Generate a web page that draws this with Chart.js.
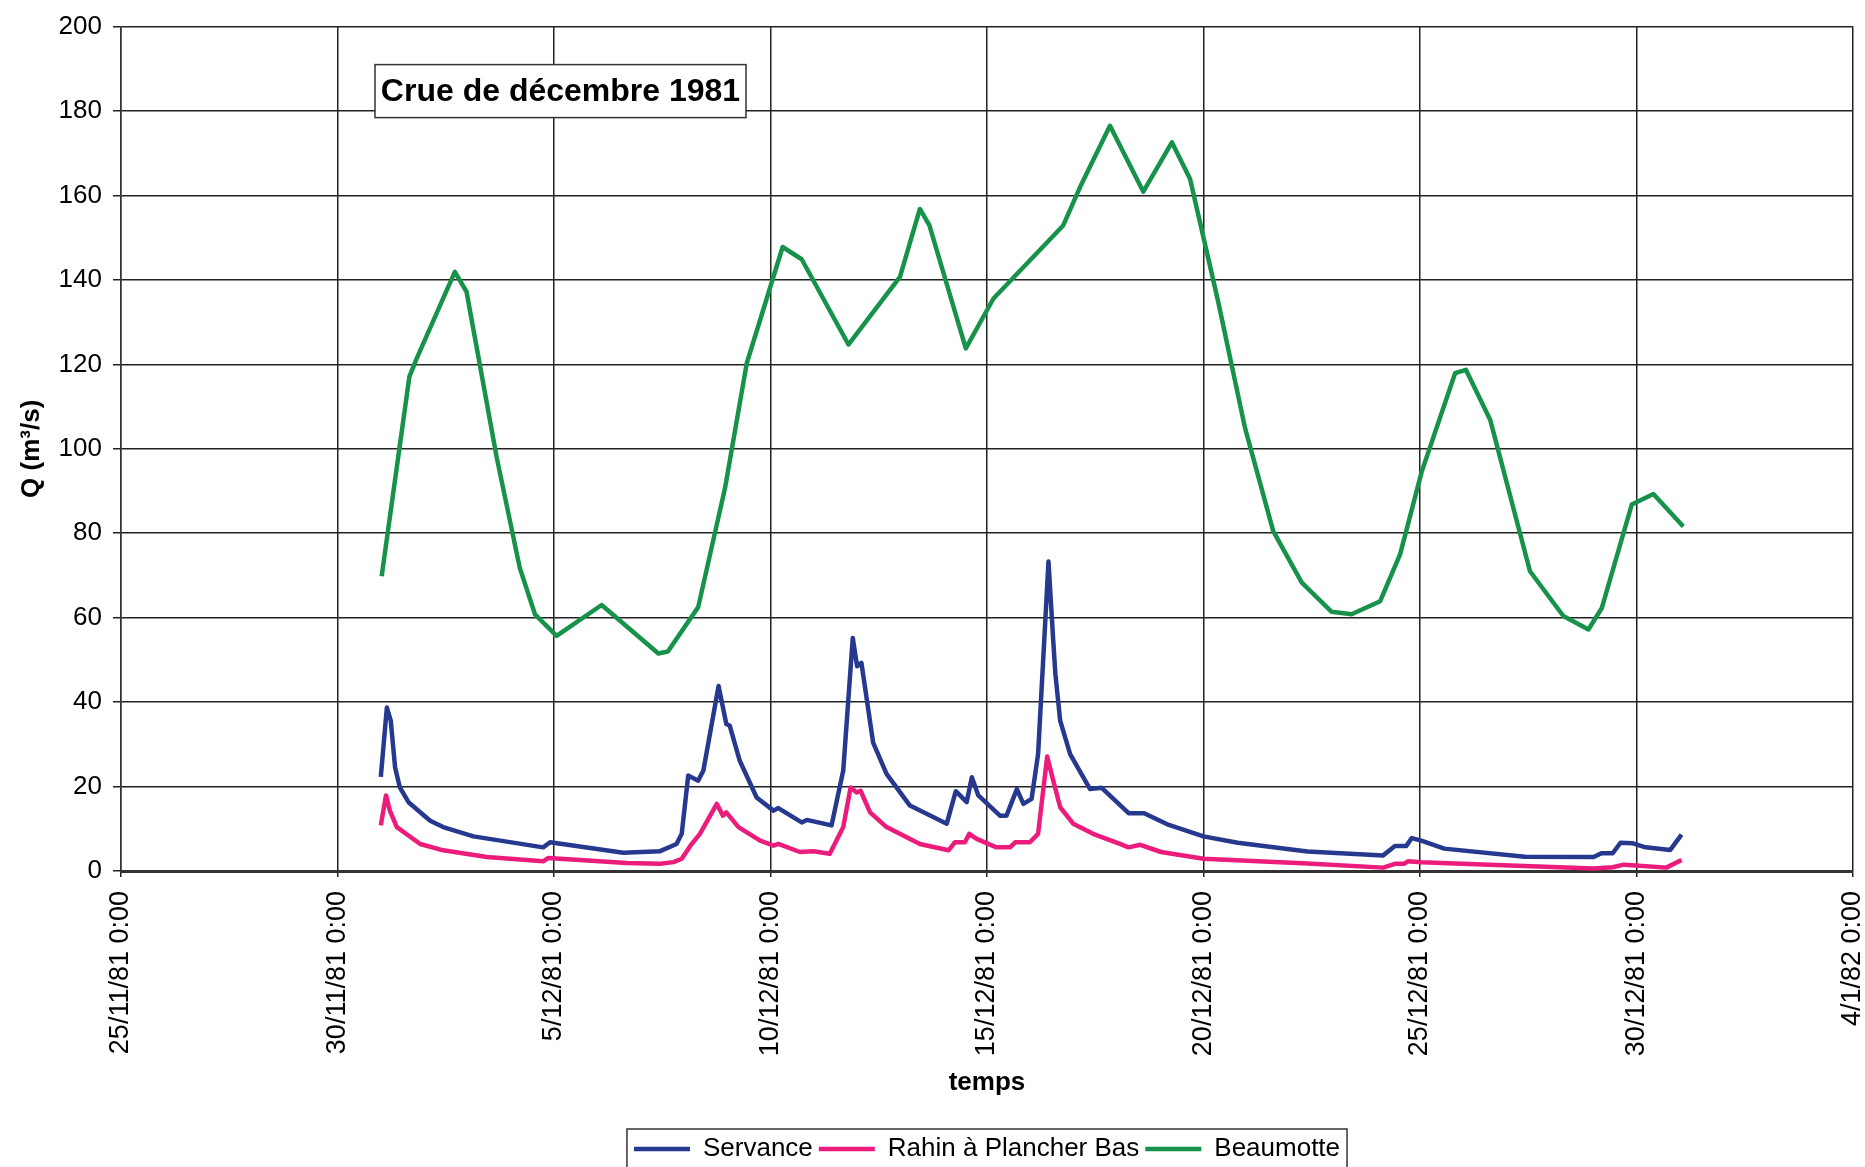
<!DOCTYPE html>
<html>
<head>
<meta charset="utf-8">
<script src="https://cdn.jsdelivr.net/npm/chart.js"></script>
<style>
  html, body { margin: 0; padding: 0; background: #fff; }
</style>
</head>
<body>
<canvas id="chart" width="1865" height="1167"></canvas>
<script>
// x values are days counted from 25/11/81 0:00
const tickDays = [0, 5, 10, 15, 20, 25, 30, 35, 40]
const tickLabels = ["25/11/81 0:00", "30/11/81 0:00", "5/12/81 0:00", "10/12/81 0:00", "15/12/81 0:00",
    "20/12/81 0:00", "25/12/81 0:00", "30/12/81 0:00", "4/1/82 0:00"]

const servanceDays = [6.0, 6.14, 6.23, 6.33, 6.44, 6.64, 7.14, 7.44, 8.14, 9.75, 9.91, 11.6, 12.45, 12.83, 12.95,
    13.1, 13.33, 13.45, 13.8, 13.98, 14.06, 14.29, 14.68, 15.07, 15.18, 15.72, 15.84, 16.41, 16.68, 16.9,
    17.0, 17.1, 17.37, 17.68, 18.22, 19.07, 19.28, 19.53, 19.65, 19.8, 20.3, 20.45, 20.69, 20.84, 21.03,
    21.18, 21.42, 21.53, 21.58, 21.69, 21.92, 22.38, 22.65, 23.27, 23.63, 24.2, 25.0, 25.79, 27.4, 29.15,
    29.42, 29.68, 29.81, 30.03, 30.56, 32.42, 34.01, 34.19, 34.45, 34.63, 34.9, 35.21, 35.78, 36.04]
const servanceQ = [22.3, 38.7, 35.6, 24.5, 19.8, 16.3, 11.9, 10.4, 8.2, 5.6, 6.8, 4.3, 4.7, 6.4, 8.8,
    22.6, 21.4, 23.8, 43.8, 34.8, 34.4, 26.1, 17.4, 14.3, 14.9, 11.5, 12.1, 10.8, 23.8, 55.2,
    48.5, 49.3, 30.4, 23, 15.5, 11.2, 18.9, 16.3, 22.2, 17.9, 13.1, 13.1, 19.4, 15.9, 17.1,
    27.7, 73.3, 54.5, 46.6, 35.6, 27.7, 19.4, 19.7, 13.7, 13.7, 10.9, 8.2, 6.7, 4.6, 3.7,
    5.9, 5.9, 7.8, 7.2, 5.3, 3.4, 3.3, 4.2, 4.2, 6.7, 6.6, 5.6, 5.0, 8.6]

const rahinDays = [6.0, 6.12, 6.21, 6.37, 6.91, 7.44, 8.45, 9.75, 9.87, 11.68, 12.45, 12.76, 12.95, 13.15, 13.37,
    13.76, 13.9, 13.98, 14.26, 14.76, 15.07, 15.18, 15.68, 15.99, 16.37, 16.68, 16.85, 16.99, 17.08, 17.3,
    17.68, 18.45, 19.11, 19.26, 19.49, 19.59, 19.76, 20.22, 20.53, 20.65, 20.99, 21.18, 21.39, 21.49, 21.69,
    21.99, 22.45, 23.07, 23.27, 23.54, 24.02, 25.0, 27.4, 29.15, 29.42, 29.63, 29.72, 30.03, 32.4, 34.01,
    34.45, 34.71, 34.98, 35.69, 36.04]
const rahinQ = [10.8, 17.9, 14.3, 10.4, 6.4, 4.9, 3.3, 2.3, 3.1, 1.9, 1.7, 2.1, 2.9, 6, 8.8,
    15.9, 13.1, 13.9, 10.4, 7.2, 6, 6.4, 4.5, 4.7, 4.1, 10.4, 19.8, 18.6, 19, 13.9,
    10.4, 6.4, 4.9, 6.8, 6.8, 8.8, 7.6, 5.6, 5.6, 6.8, 6.8, 8.8, 27.1, 23, 15.1,
    11.2, 8.8, 6.4, 5.6, 6.2, 4.5, 2.9, 1.8, 0.8, 1.7, 1.7, 2.3, 2.1, 1.2, 0.6,
    0.9, 1.5, 1.3, 0.8, 2.6]

const beaumotteDays = [6.02, 6.66, 6.83, 7.71, 7.98, 8.68, 9.21, 9.56, 10.06, 11.1, 12.41, 12.63, 13.33, 13.95, 14.45,
    15.28, 15.72, 16.8, 17.99, 18.45, 18.67, 19.51, 20.15, 21.76, 22.15, 22.84, 23.61, 24.27, 24.69, 25.34,
    25.96, 26.61, 27.27, 27.96, 28.42, 29.08, 29.54, 30.04, 30.81, 31.06, 31.62, 32.54, 33.31, 33.89, 34.2,
    34.89, 35.39, 36.08]
const beaumotteQ = [69.8, 117.1, 121.4, 141.9, 137.2, 97.8, 71.8, 60.8, 55.7, 63, 51.5, 52, 62.5, 90.7, 120.2,
    147.8, 144.9, 124.7, 140.7, 156.8, 152.9, 123.8, 135.6, 152.9, 162, 176.5, 160.9, 172.6, 163.9, 134.8,
    104.9, 80.5, 68.3, 61.4, 60.8, 63.9, 75, 94.6, 117.9, 118.7, 106.9, 71, 60.4, 57.2, 62.3,
    86.8, 89.3, 81.6]

const seriesNames = ["Servance", "Rahin à Plancher Bas", "Beaumotte"]
const seriesColors = ["#27398f", "#ec1c7c", "#17924a"]
const chartTitle = "Crue de décembre 1981"

const FONT = '"Liberation Sans", Arial, sans-serif'
const toPoints = (days, q) => days.map((d, i) => ({x: d, y: q[i]}))

const titleBox = {
    id: "titleBox",
    afterDatasetsDraw(chart) {
        const {ctx, chartArea} = chart
        const x = chartArea.left + 254, y = chartArea.top + 38, w = 371, h = 53
        ctx.save()
        ctx.fillStyle = "#fff"
        ctx.fillRect(x, y, w, h)
        ctx.strokeStyle = "#333"
        ctx.lineWidth = 1.5
        ctx.strokeRect(x, y, w, h)
        ctx.font = `bold 32px ${FONT}`
        ctx.fillStyle = "#000"
        ctx.textAlign = "center"
        ctx.textBaseline = "middle"
        ctx.fillText(chartTitle, x + w / 2, y + h / 2 + 1)
        ctx.restore()
    }
}

// thin frame round the legend, like the spreadsheet one
const legendFrame = {
    id: "legendFrame",
    afterDraw(chart) {
        const boxes = chart.legend.legendHitBoxes
        if (!boxes || !boxes.length) return
        const left = Math.min(...boxes.map(b => b.left)) - 7
        const right = Math.max(...boxes.map(b => b.left + b.width)) + 7
        const top = Math.min(...boxes.map(b => b.top)) - 7
        const ctx = chart.ctx
        ctx.save()
        ctx.strokeStyle = "#333"
        ctx.lineWidth = 1.5
        ctx.strokeRect(left, top, right - left, 70)
        ctx.restore()
    }
}

const ctx = document.getElementById("chart").getContext("2d")
new Chart(ctx, {
    type: "line",
    data: {
        datasets: [
            {label: seriesNames[0], data: toPoints(servanceDays, servanceQ), borderColor: seriesColors[0], backgroundColor: seriesColors[0], borderWidth: 4.5},
            {label: seriesNames[1], data: toPoints(rahinDays, rahinQ), borderColor: seriesColors[1], backgroundColor: seriesColors[1], borderWidth: 4.5},
            {label: seriesNames[2], data: toPoints(beaumotteDays, beaumotteQ), borderColor: seriesColors[2], backgroundColor: seriesColors[2], borderWidth: 4.5},
        ]
    },
    options: {
        responsive: false,
        animation: false,
        layout: {padding: {top: 12, right: 12, bottom: -5, left: 0}},
        elements: {
            point: {radius: 0},
            line: {tension: 0, borderJoinStyle: "round"}
        },
        plugins: {
            legend: {
                position: "bottom",
                fullSize: false,
                labels: {
                    usePointStyle: true,
                    pointStyle: "line",
                    pointStyleWidth: 56,
                    color: "#000",
                    padding: 6,
                    font: {family: FONT, size: 26}
                }
            },
            tooltip: {enabled: false}
        },
        scales: {
            x: {
                type: "linear",
                min: 0,
                max: 40,
                afterBuildTicks: scale => {
                    scale.ticks = tickDays.map(v => ({value: v}))
                },
                afterFit: scale => {
                    scale.height = 259
                    scale.paddingLeft = 0
                    scale.paddingRight = 0
                },
                ticks: {
                    autoSkip: false,
                    maxRotation: 90,
                    minRotation: 90,
                    padding: 14,
                    color: "#000",
                    font: {family: FONT, size: 27, lineHeight: 1},
                    callback: v => tickLabels[tickDays.indexOf(v)]
                },
                grid: {color: "#222", lineWidth: 1.5, tickLength: 6},
                border: {color: "#333", width: 3},
                title: {
                    display: true,
                    text: "temps",
                    color: "#000",
                    font: {family: FONT, size: 26, weight: "bold"},
                    padding: {top: 8, bottom: 32}
                }
            },
            y: {
                min: 0,
                max: 200,
                afterFit: scale => {
                    scale.width = 121
                },
                ticks: {
                    stepSize: 20,
                    padding: 11,
                    color: "#000",
                    font: {family: FONT, size: 26}
                },
                grid: {color: "#222", lineWidth: 1.5, tickLength: 8},
                border: {color: "#333", width: 1.5},
                title: {
                    display: true,
                    text: "Q (m³/s)",
                    color: "#000",
                    font: {family: FONT, size: 26, weight: "bold"},
                    padding: {top: 16, bottom: 0}
                }
            }
        }
    },
    plugins: [titleBox, legendFrame]
})
</script>
</body>
</html>
